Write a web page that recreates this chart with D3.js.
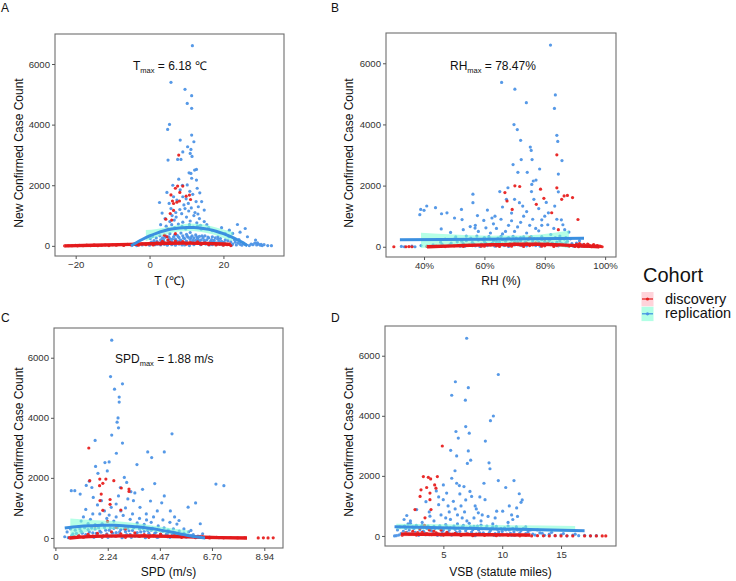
<!DOCTYPE html>
<html><head><meta charset="utf-8">
<script src="https://cdn.jsdelivr.net/npm/d3@7"></script>
<style>body{margin:0;background:#fff}svg{display:block}</style>
</head><body>
<svg id="c" width="736" height="581"></svg>
<script>
// ---------------- DATA ----------------
const yTicks = [0, 2000, 4000, 6000];
const cohorts = ["discovery", "replication"];

// Panel A : T (°C) vs count
const aTicks = [-20, 0, 20];
const aBlue = [[11.6,6606],[5.8,5395],[9.6,5164],[11.4,4955],[10.2,4700],[11.4,4536],[5.4,4008],[4.9,3843],[11.4,3655],[8.3,3490],[12.0,3435],[10.3,3270],[11.2,3182],[9.0,3100],[7.6,2852],[8.5,2852],[11.5,2950],[11.0,3050],[5.0,2830],[12.7,2521],[12.2,2500],[10.7,2411],[11.2,2390],[11.4,2230],[4.7,1762],[8.3,1850],[10.2,2010],[12.7,2170],[13.6,1750],[6.5,1620],[9.0,1620],[10.5,1400],[11.7,1700],[12.6,1460],[14.1,1460],[13.2,1290],[14.8,1180],[7.4,1510],[9.6,1230],[5.8,1230],[8.7,1060],[10.0,950],[6.7,850],[2.7,1430],[3.4,1080],[4.2,900],[7.2,950],[12.0,1000],[13.5,900],[21.6,517],[23.8,705],[25.9,572],[22.5,410],[28.7,190],[20.5,400],[17.0,500],[18.5,300],[15.5,700],[16.0,600],[3.0,700],[6.0,700],[9.0,780],[11.0,820],[13.0,650],[14.0,550]];
const aBlueMid = [[4.5,650],[5.5,800],[6.8,600],[7.8,720],[8.8,640],[9.8,560],[10.8,700],[11.8,620],[12.8,760],[13.8,680],[14.8,800],[8.2,1200],[9.3,1350],[10.6,1150],[11.3,1250],[12.3,1100],[7.1,1100],[5.3,1400],[6.1,1000],[13.1,1050],[9.9,1550],[10.9,1800],[8.9,2000],[7.9,2200],[12.9,1900],[6.3,2000],[19.5,600],[24.5,450],[26.5,300]];
const aBlueLow = [[-3.5,10],[-2,30],[-1,60],[0,20],[0.5,120],[1,80],[1.5,40],[2,150],[2.5,90],[3,200],[3,30],[3.5,260],[4,110],[4,50],[4.5,320],[5,180],[5,60],[5.5,400],[5.5,240],[6,130],[6,40],[6.5,300],[6.5,90],[7,220],[7,20],[7.5,350],[7.5,150],[8,270],[8,60],[8.5,420],[8.5,190],[9,330],[9,100],[9.5,240],[9.5,30],[10,380],[10,160],[10.5,280],[10.5,70],[11,440],[11,210],[11.5,130],[11.5,330],[12,260],[12,40],[12.5,180],[12.5,360],[13,90],[13,250],[13.5,310],[13.5,140],[14,200],[14,60],[14.5,270],[15,120],[15,330],[15.5,200],[16,80],[16,260],[16.5,150],[17,300],[17,40],[17.5,180],[18,100],[18.5,220],[19,60],[19.5,150],[20,90],[20.5,200],[21,50],[21.5,300],[22,130],[22.5,60],[23,200],[23.5,30],[24,100],[24.5,50],[25,20],[27,10],[28,40],[28.5,90],[29,30],[29.5,60],[30,20],[30.5,10],[31,40],[32,10],[33,5],
[0.2,240],[0.8,310],[1.2,170],[1.8,260],[2.2,60],[2.8,330],[3.2,120],[3.8,190],[4.2,280],[4.8,20],[5.2,300],[5.8,140],[6.2,220],[6.8,360],[7.2,100],[7.8,300],[8.2,170],[8.8,30],[9.2,260],[9.8,120],[10.2,320],[10.8,10],[11.2,270],[11.8,180],[12.2,80],[12.8,300],[13.2,200],[13.8,40],[14.2,330],[14.8,180],[15.2,60],[15.8,290],[16.2,30],[16.8,210],[17.2,120],[17.8,260],[18.2,50],[18.8,150],[19.2,240],[19.8,30],[20.2,120],[21.2,170],[22.2,20],[23.2,120],[24.2,210],[25.5,80],[26,40],[27.5,60],[29.2,100],[30.2,50]];
const aRed = [[7.9,2995],[7.6,1971],[9.0,1971],[7.0,1900],[8.2,1762],[5.8,1680],[6.2,1480],[9.9,1640],[10.8,1674],[8.1,1480],[7.4,1440],[11.1,1530],[6.5,1398],[5.6,1068],[4.4,880],[6.0,850],[6.5,1170],[4.0,352],[4.7,300],[7.0,400],[5.0,550],
[-23,0],[-22,10],[-21,5],[-20,20],[-19.5,0],[-19,15],[-18,5],[-17,25],[-16,10],[-15,30],[-14,5],[-13,20],[-12,35],[-11,10],[-10,40],[-9,20],[-8,45],[-7,15],[-6,50],[-5,30],[-4,60],[-3,20],[-2,70],[-1,40],[0,80],[1,30],[2,100],[3,60],[3.5,150],[4,90],[5,200],[5.5,120],[6,70],[7,160],[8,100],[9,140],[10,60],[11,110],[12,80],[13,130],[14,50],[15,90],[16,40],[17,70],[18,30],[19,60],[20,20],[21,40],[22,10]];
const aBlueFit = [[-5,0],[-2,210],[0,326],[2,422],[4,498],[6,554],[8,591],[10,608],[12,606],[14,584],[16,543],[18,482],[20,402],[22,303],[24,185],[26,47],[26.5,0]];
const aBlueBand = [[-1,150,520],[2,290,560],[5,400,620],[8,470,700],[11,490,740],[14,460,720],[17,380,640],[20,260,540],[22.5,150,460]];
const aRedFit = [[-23,0],[-15,20],[-5,50],[0,70],[5,85],[10,90],[15,80],[20,60],[22,50]];
const aRedBand = [[-23,-60,60],[-10,0,90],[0,30,110],[10,50,130],[22,0,100]];

// Panel B : RH (%) vs count
const bTicks = [40, 60, 80, 100];
const bBlue = [[81.9,6595],[65.7,5373],[70.1,5153],[73.9,4712],[83.5,4966],[83.2,4525],[69.8,3997],[70.9,3831],[84.0,3644],[72.0,3479],[84.3,3446],[75.2,3259],[75.5,3149],[69.5,2686],[75.8,2852],[85.7,2818],[72.2,2850],[71.1,2433],[74.2,2433],[78.3,2543],[84.5,2378],[65.1,1806],[67.8,1930],[75.7,2037],[76.2,2150],[77.1,2180],[84.5,1795],[75.6,1806],[76.4,1550],[67.3,1550],[70.0,1550],[71.6,1440],[72.7,1330],[56.2,1718],[56.2,1442],[40.9,1332],[38.9,1222],[40.0,1190],[38.6,1050],[43.8,1277],[45.8,1080],[47.6,1110],[50.1,940],[52.4,1220],[57.7,1020],[62.5,940],[59.8,860],[45.7,584],[48.8,470],[52.6,890],[55.3,660],[56.9,610],[63.5,1000],[81.2,1110],[83.3,1330],[85.5,880],[86.6,560],[64,600],[68,700],[72,800],[76,900],[80,1000],[79,700],[62,450],[66,420],[70,500],[74,450],[78,520],[82,400],[85,350],[87,300],[60,300],[54,350],[50,250],[58,500]];
const bBlueMid = [[60.5,620],[63,750],[65.5,900],[67,500],[69,850],[71,650],[73,1000],[75,700],[77,600],[79,880],[81,720],[83,600],[84,900],[86,720],[88,480],[61,1200],[66,1300],[69,1100],[74,1150],[78,1250],[80.5,1450],[57,700],[53,560]];
const bBlueLow = [[32.5,10],[33.5,0],[36,20],[37,0],[39,40],[41,20],[43,60],[45,10],[46,80],[48,30],[49,120],[50,50],[51,160],[52,20],[53,100],[54,200],[55,60],[56,140],[57,30],[58,220],[59,90],[60,170],[61,40],[62,250],[62.5,110],[63,190],[64,60],[64.5,280],[65,150],[66,230],[66.5,40],[67,180],[68,300],[68.5,100],[69,220],[70,60],[70.5,280],[71,160],[72,200],[72.5,40],[73,320],[74,120],[74.5,240],[75,80],[76,190],[76.5,270],[77,40],[78,150],[79,230],[79.5,70],[80,180],[81,120],[82,260],[83,60],[84,150],[85,200],[86,90],[87,130],[88,50],[89,100],[90,30],[91,60],[92,20],[93,10],
[45.5,150],[47,250],[48.5,60],[50.5,320],[52.5,180],[53.5,20],[55.5,280],[56.5,90],[57.5,350],[58.5,10],[59.5,240],[60.5,110],[61.5,330],[63.5,20],[64,160],[65.5,340],[66,90],[67.5,260],[68,10],[69.5,340],[70,170],[71.5,60],[72,300],[73.5,150],[74,30],[75.5,330],[76,100],[77.5,250],[78.5,20],[79,330],[80.5,90],[81.5,210],[82.5,120],[83.5,300],[84.5,30],[85.5,100],[86.5,250],[87.5,180],[88.5,260],[89.5,20],[90.5,120],[91.5,200],[92.5,60]];
const bRed = [[84.0,3006],[70.1,1993],[71.7,1970],[66.8,1773],[67.5,1497],[69.2,1222],[84.0,1927],[85.6,1552],[86.4,1663],[87.5,1680],[89.2,1607],[78.6,1883],[79.7,1585],[82.3,1112],[91.0,892],[77.2,1387],[84.5,560],[75,300],[80,250],
[30,0],[34,0],[35,5],[36,0],[41,10],[44,20],[47,5],[50,30],[53,15],[56,40],[59,20],[62,60],[64,30],[66,80],[68,40],[70,100],[72,50],[74,120],[76,60],[78,90],[80,30],[82,70],[84,40],[86,60],[88,20],[89,50],[90,10],[90.5,80],[91,30],[91.5,100],[92,60],[92.5,20],[93,80],[93.5,40],[94,10],[94.5,60],[95,30],[95.5,0],[96,50],[96.5,20],[97,10],[97.5,40],[98,0],[98.5,10],
[60,20],[63,90],[65,10],[67,50],[69,20],[71,70],[73,10],[75,40],[77,130],[79,20],[81,110],[83,10],[85,90],[87,40],[91.2,0],[92.2,40],[93.2,10],[94.2,90],[95.2,20],[96.2,70],[97.2,30],[98.2,20],[99,0]];
const bBlueFit = [[32,230],[60,245],[93,275]];
const bBlueBand = [[39,-40,460],[50,60,400],[62,110,360],[75,110,380],[82,40,440],[88,-40,530]];
const bRedFit = [[41,0],[50,30],[60,60],[70,80],[78,80],[85,60],[92,30],[98,0]];
const bRedBand = [[41,-60,60],[60,20,100],[75,40,120],[90,0,70],[98,-50,50]];

// Panel C : SPD (m/s) vs count
const cTicks = [0, 2.24, 4.47, 6.70, 8.94];
const cBlue = [[2.41,6584],[2.36,5373],[2.53,4954],[2.87,5131],[2.73,4690],[2.73,4525],[2.68,3997],[2.64,3853],[2.70,3666],[2.41,3424],[2.87,3160],[4.99,3468],[2.61,2819],[3.95,2863],[4.12,2675],[4.66,2863],[3.49,2444],[1.70,3248],[2.30,2532],[2.12,2510],[1.72,2380],[1.82,2150],[1.45,1890],[1.32,1750],[2.22,2230],[2.95,2015],[3.05,1850],[2.78,1680],[3.23,1540],[3.73,1620],[4.25,1810],[4.66,1400],[4.07,1230],[4.55,1170],[4.92,900],[6.87,1795],[7.21,1740],[6.0,1167],[5.68,1024],[6.2,473],[0.68,1574],[0.83,1574],[1.06,1460],[1.62,1350],[1.56,1680],[1.97,1240],[2.39,1020],[2.60,1130],[3.34,1240],[3.62,1020],[3.89,800],[4.36,900],[5.10,700],[5.29,580],[4.82,260],[1.2,700],[1.5,620],[1.9,800],[2.2,650],[2.5,560],[2.9,750],[3.2,620],[3.5,500],[3.8,450],[4.1,520],[4.4,400],[2.0,480],[1.0,380],[1.7,440],[5.5,300],[5.8,250]];
const cBlueMid = [[1.3,950],[1.6,800],[1.8,1100],[2.1,900],[2.3,760],[2.6,700],[2.8,900],[3.0,1000],[3.3,800],[3.6,650],[3.9,600],[4.2,700],[4.6,600],[4.9,520],[5.2,460],[1.1,560],[1.4,480],[2.7,1400],[3.1,1300],[3.4,1500]];
const cBlueLow = [[0.4,40],[0.55,10],[0.7,80],[0.8,30],[0.9,150],[1.0,60],[1.1,220],[1.2,20],[1.3,110],[1.4,280],[1.5,50],[1.6,170],[1.7,300],[1.8,90],[1.9,230],[2.0,30],[2.1,350],[2.2,140],[2.3,260],[2.4,60],[2.5,320],[2.6,180],[2.7,100],[2.8,280],[2.9,40],[3.0,210],[3.1,330],[3.2,120],[3.3,250],[3.4,60],[3.5,180],[3.6,300],[3.7,90],[3.8,220],[3.9,40],[4.0,160],[4.1,260],[4.2,80],[4.3,190],[4.4,30],[4.5,130],[4.6,220],[4.7,60],[4.8,150],[4.9,20],[5.0,100],[5.1,180],[5.2,50],[5.4,120],[5.6,30],[5.8,80],[6.0,20],[6.2,50],[6.4,10],[6.6,30],[7.0,10],
[0.5,200],[0.65,300],[0.75,140],[0.85,260],[0.95,20],[1.05,300],[1.15,160],[1.25,340],[1.35,60],[1.45,200],[1.55,330],[1.65,20],[1.75,150],[1.85,340],[1.95,190],[2.05,80],[2.15,260],[2.25,20],[2.35,330],[2.45,160],[2.55,60],[2.65,340],[2.75,200],[2.85,10],[2.95,300],[3.05,110],[3.15,240],[3.25,20],[3.35,340],[3.45,130],[3.55,60],[3.65,200],[3.75,320],[3.85,10],[3.95,250],[4.05,90],[4.15,330],[4.25,150],[4.35,20],[4.45,270],[4.55,80],[4.65,340],[4.75,130],[4.85,240],[4.95,40],[5.05,300],[5.15,90],[5.3,230],[5.5,160],[5.7,200],[5.9,110],[6.1,60],[6.3,140]];
const cRed = [[1.43,2995],[1.47,1905],[1.90,1960],[2.16,1960],[2.50,1905],[1.89,1740],[2.03,1820],[1.96,1460],[1.91,1244],[2.03,920],[2.34,1280],[2.34,1120],[2.82,1662],[3.15,1629],[3.15,1550],[2.80,930],[2.23,550],[1.7,400],[2.6,350],[3.0,300],
[0.6,10],[0.8,40],[1.0,80],[1.2,20],[1.4,120],[1.6,60],[1.8,150],[2.0,30],[2.2,100],[2.4,200],[2.6,60],[2.8,140],[3.0,20],[3.2,90],[3.4,170],[3.6,50],[3.8,110],[4.0,20],[4.2,80],[4.5,130],[4.8,40],[5.1,90],[5.4,20],[5.7,60],[6.0,10],[6.3,40],[6.6,0],[6.9,20],[7.2,5],[7.5,15],[7.8,0],[8.1,10],[8.68,0],[8.9,5],[9.1,0],[9.32,5]];
const cBlueFit = [[0.4,330],[1,380],[1.5,405],[2,420],[2.5,420],[3,400],[3.5,370],[4,320],[4.5,260],[5,190],[5.5,110],[6,40],[6.4,0]];
const cBlueBand = [[0.64,0,650],[1.5,230,600],[2.5,300,560],[3.5,270,490],[4.5,180,370],[5.7,30,250]];
const cRedFit = [[0.6,0],[2,60],[3,70],[4,65],[5,50],[6,30],[7,10],[8.2,0]];
const cRedBand = [[0.6,-60,60],[3,20,120],[6,-10,70],[8.2,-60,60]];

// Panel D : VSB (statute miles) vs count
const dTicks = [5, 10, 15];
const dBlue = [[6.98,6582],[9.67,5375],[6.02,5134],[7.12,4936],[5.71,4684],[6.87,4519],[9.25,3993],[9.0,3839],[6.9,3642],[6.07,3477],[7.2,3422],[6.27,3258],[8.57,3159],[5.62,2852],[7.12,2830],[6.13,2665],[7.32,2523],[7.04,2413],[8.88,2435],[8.96,2237],[5.99,2171],[8.45,1755],[9.67,1843],[11.0,1843],[10.3,1612],[11.45,1404],[11.6,1119],[11.7,1200],[5.71,1920],[6.13,1755],[6.36,1678],[6.75,1645],[5.28,1426],[4.99,1207],[4.6,1042],[5.85,1152],[7.26,1481],[7.4,1316],[7.97,768],[8.54,1207],[9.53,823],[10.04,823],[10.9,548],[11.23,932],[1.89,680],[1.66,548],[2.73,877],[3.52,1141],[3.86,658],[4.4,1500],[5.0,1700],[5.4,1000],[6.5,1000],[6.8,800],[7.6,600],[8.2,500],[8.8,650],[9.2,400],[10.5,450],[4.2,500],[5.2,600],[6.2,700],[3.2,450],[2.2,420],[12,300]];
const dBlueMid = [[5.5,800],[6,900],[6.6,600],[7,500],[7.8,900],[8.3,700],[9.4,600],[10.8,700],[4.8,700],[5.6,550],[6.4,1400],[6.9,1200],[7.7,1000],[8.1,1300],[3.8,800],[4.6,1300],[10.6,1000],[11.3,650]];
const dBlueLow = [[0.85,0],[1.0,10],[1.2,30],[1.4,80],[1.6,150],[1.8,250],[2.0,400],[2.2,500],[2.4,300],[2.6,120],[2.8,60],[3.0,200],[3.2,350],[3.4,100],[3.6,250],[3.8,40],[4.0,180],[4.2,320],[4.4,90],[4.6,260],[4.8,30],[5.0,200],[5.2,380],[5.4,120],[5.6,280],[5.8,60],[6.0,220],[6.2,400],[6.4,150],[6.6,300],[6.8,50],[7.0,250],[7.2,420],[7.4,130],[7.6,320],[7.8,70],[8.0,200],[8.2,360],[8.4,100],[8.6,260],[8.8,40],[9.0,180],[9.2,300],[9.4,80],[9.6,220],[9.8,30],[10,150],[10.2,270],[10.4,60],[10.6,200],[10.8,20],[11,140],[11.2,300],[11.4,50],[11.6,180],[12,80],[12.4,200],[12.8,30],[13.2,100],[13.6,20],[14,60],[14.5,10],[15,40],[15.5,5],[16,30],[16.5,10],[17,20],[17.5,0],[18,10],
[1.1,200],[1.3,300],[1.5,60],[1.7,330],[1.9,120],[2.1,200],[2.3,80],[2.5,250],[2.7,350],[2.9,20],[3.1,300],[3.3,160],[3.5,40],[3.7,330],[3.9,190],[4.1,80],[4.3,250],[4.5,20],[4.7,340],[4.9,150],[5.1,60],[5.3,300],[5.5,200],[5.7,30],[5.9,330],[6.1,120],[6.3,260],[6.5,20],[6.7,350],[6.9,170],[7.1,70],[7.3,300],[7.5,210],[7.7,10],[7.9,330],[8.1,100],[8.3,240],[8.5,40],[8.7,330],[8.9,110],[9.1,250],[9.3,20],[9.5,320],[9.7,130],[9.9,250],[10.1,40],[10.3,200],[10.5,330],[10.7,90],[10.9,250],[11.1,20],[11.3,200],[11.5,100],[11.8,250],[12.2,140],[12.6,60],[13,200],[13.4,90],[14.2,120],[15.2,80],[16.2,60]];
const dRed = [[4.91,2995],[3.30,1975],[3.72,1953],[3.92,1898],[3.58,1612],[3.86,1426],[4.26,1700],[4.37,1590],[4.49,1975],[3.86,1207],[3.95,877],[3.10,1535],[3.02,1316],[2.59,877],[3.44,603],[2.82,110],
[1.5,20],[1.8,100],[2.1,60],[2.4,150],[2.7,30],[3.0,250],[3.2,120],[3.4,350],[3.6,80],[3.8,200],[4.0,40],[4.2,160],[4.4,100],[4.6,60],[4.8,200],[5.0,30],[5.3,120],[5.6,50],[6,90],[6.5,20],[7,70],[7.5,10],[8,60],[8.5,20],[9,50],[9.5,10],[10,40],[10.5,20],[11,30],[11.5,5],[12,20],[12.5,0],[13,10],[13.5,5],[14,0],[14.5,10],[15,0],[15.5,5],[16,0],[17,0],[17.5,5],[18,0],[18.5,0],[18.8,0]];
const dBlueFit = [[0.85,305],[17.0,175]];
const dBlueBand = [[1.0,220,410],[8,200,370],[16.2,120,335]];
const dRedFit = [[1.4,60],[5,50],[9,40],[12.4,30]];
const dRedBand = [[1.4,-20,140],[6,10,90],[12.4,-30,90]];

// ---------------- STYLE ----------------
const RED = "#e8201f", BLUE = "#4d94e6", BLUE_LINE = "#3b8fe0", RED_LINE = "#e31a1c";
const AQUA = "#7fffd4", PINK = "#ffb6c1";
const FONT = "'Liberation Sans', Arial, Helvetica, sans-serif";

const svg = d3.select("#c");

const panels = [
  {letter:"A", lx:1, ly:12, box:[55,34,284,256], xd:[-25.6,36.4], ticks:aTicks, fmt:d=>d3.format("d")(d),
   blue:aBlue.concat(aBlueMid, aBlueLow), red:aRed, bf:aBlueFit, bb:aBlueBand, rf:aRedFit, rb:aRedBand,
   xt:"T (℃)", xtY:285, ytX:23, ytY:153,
   ann:{x:133, y:70, main:"T", sub:"max", rest:" = 6.18 ℃"}},
  {letter:"B", lx:331, ly:12, box:[386,33,616,257], xd:[27.4,103.6], ticks:bTicks, fmt:d=>d+"%",
   blue:bBlue.concat(bBlueMid, bBlueLow), red:bRed, bf:bBlueFit, bb:bBlueBand, rf:bRedFit, rb:bRedBand,
   xt:"RH (%)", xtY:285, ytX:353, ytY:153,
   ann:{x:450, y:70, main:"RH", sub:"max", rest:" = 78.47%"}},
  {letter:"C", lx:1, ly:322, box:[54,328,283,548], xd:[-0.06,9.74], ticks:cTicks, fmt:d=>d===0?"0":d3.format(".2f")(d),
   blue:cBlue.concat(cBlueMid, cBlueLow), red:cRed, bf:cBlueFit, bb:cBlueBand, rf:cRedFit, rb:cRedBand,
   xt:"SPD (m/s)", xtY:576, ytX:23, ytY:442,
   ann:{x:115, y:363, main:"SPD", sub:"max", rest:" = 1.88 m/s"}},
  {letter:"D", lx:331, ly:322, box:[385,326,616,546], xd:[0.04,19.67], ticks:dTicks, fmt:d=>String(d),
   blue:dBlue.concat(dBlueMid, dBlueLow), red:dRed, bf:dBlueFit, bb:dBlueBand, rf:dRedFit, rb:dRedBand,
   xt:"VSB (statute miles)", xtY:576, ytX:353, ytY:442,
   ann:null}
];

panels.forEach(p => {
  const [x0,y0,x1,y1] = p.box;
  const x = d3.scaleLinear().domain(p.xd).range([x0,x1]);
  const y = d3.scaleLinear().domain([-335, 6990]).range([y1,y0]);
  const g = svg.append("g");
  const clipId = "clip"+p.letter;
  svg.append("clipPath").attr("id",clipId).append("rect")
    .attr("x",x0).attr("y",y0).attr("width",x1-x0).attr("height",y1-y0);
  const plot = g.append("g").attr("clip-path",`url(#${clipId})`);

  // points
  plot.append("g").selectAll("circle").data(p.blue).join("circle")
    .attr("cx",d=>x(d[0])).attr("cy",d=>y(d[1])).attr("r",1.6)
    .attr("fill",BLUE).attr("fill-opacity",0.95);
  plot.append("g").selectAll("circle").data(p.red).join("circle")
    .attr("cx",d=>x(d[0])).attr("cy",d=>y(d[1])).attr("r",1.6)
    .attr("fill",RED).attr("fill-opacity",0.95);

  // ribbons
  const area = d3.area().x(d=>x(d[0])).y0(d=>y(d[1])).y1(d=>y(d[2])).curve(d3.curveMonotoneX);
  plot.append("path").datum(p.rb).attr("d",area).attr("fill",PINK).attr("fill-opacity",0.5);
  plot.append("path").datum(p.bb).attr("d",area).attr("fill",AQUA).attr("fill-opacity",0.58);

  // fit lines
  const line = d3.line().x(d=>x(d[0])).y(d=>y(d[1])).curve(d3.curveMonotoneX);
  plot.append("path").datum(p.rf).attr("d",line).attr("fill","none")
    .attr("stroke",RED_LINE).attr("stroke-width",3.4);
  plot.append("path").datum(p.bf).attr("d",line).attr("fill","none")
    .attr("stroke",BLUE_LINE).attr("stroke-width",3);

  // frame
  g.append("rect").attr("x",x0).attr("y",y0).attr("width",x1-x0).attr("height",y1-y0)
    .attr("fill","none").attr("stroke","#6e6e6e").attr("stroke-width",1.1);

  // axes
  const xa = g.append("g").attr("transform",`translate(0,${y1})`)
    .call(d3.axisBottom(x).tickValues(p.ticks).tickFormat(p.fmt).tickSize(3).tickPadding(2));
  const ya = g.append("g").attr("transform",`translate(${x0},0)`)
    .call(d3.axisLeft(y).tickValues(yTicks).tickFormat(d3.format("d")).tickSize(3).tickPadding(2));
  [xa,ya].forEach(a=>{
    a.select(".domain").remove();
    a.selectAll(".tick line").attr("stroke","#555");
    a.selectAll(".tick text").attr("fill","#333").style("font-family",FONT).style("font-size","9.6px");
  });

  // axis titles
  g.append("text").attr("x",(x0+x1)/2).attr("y",p.xtY).attr("text-anchor","middle")
    .style("font-family",FONT).style("font-size","12px").attr("fill","#111").text(p.xt);
  g.append("text").attr("transform",`translate(${p.ytX},${p.ytY}) rotate(-90)`).attr("text-anchor","middle")
    .style("font-family",FONT).style("font-size","12px").attr("fill","#111").text("New Confirmed Case Count");

  // panel letter
  g.append("text").attr("x",p.lx).attr("y",p.ly).style("font-family",FONT).style("font-size","12px")
    .attr("fill","#111").text(p.letter);

  // annotation
  if (p.ann) {
    const t = g.append("text").attr("x",p.ann.x).attr("y",p.ann.y)
      .style("font-family",FONT).style("font-size","12px").attr("fill","#111");
    t.append("tspan").text(p.ann.main);
    t.append("tspan").attr("dy",3).style("font-size","7.5px").text(p.ann.sub);
    t.append("tspan").attr("dy",-3).text(p.ann.rest);
  }
});

// legend
const lg = svg.append("g");
lg.append("text").attr("x",643).attr("y",281.5).style("font-family",FONT).style("font-size","20px")
  .attr("fill","#111").text("Cohort");
const keyCols = [[PINK, RED_LINE, RED],[AQUA, BLUE_LINE, BLUE]];
cohorts.forEach((c,i)=>{
  const ky = 292 + i*14.8;
  lg.append("rect").attr("x",641.5).attr("y",ky).attr("width",12).attr("height",14.3)
    .attr("fill",keyCols[i][0]).attr("fill-opacity",0.6);
  lg.append("line").attr("x1",642).attr("x2",653).attr("y1",ky+7).attr("y2",ky+7)
    .attr("stroke",keyCols[i][1]).attr("stroke-width",1.2);
  lg.append("circle").attr("cx",647.5).attr("cy",ky+7).attr("r",1.6).attr("fill",keyCols[i][2]);
  lg.append("text").attr("x",665).attr("y",ky+11.5).style("font-family",FONT).style("font-size","14.5px")
    .attr("fill","#111").text(c);
});
</script>
</body></html>
